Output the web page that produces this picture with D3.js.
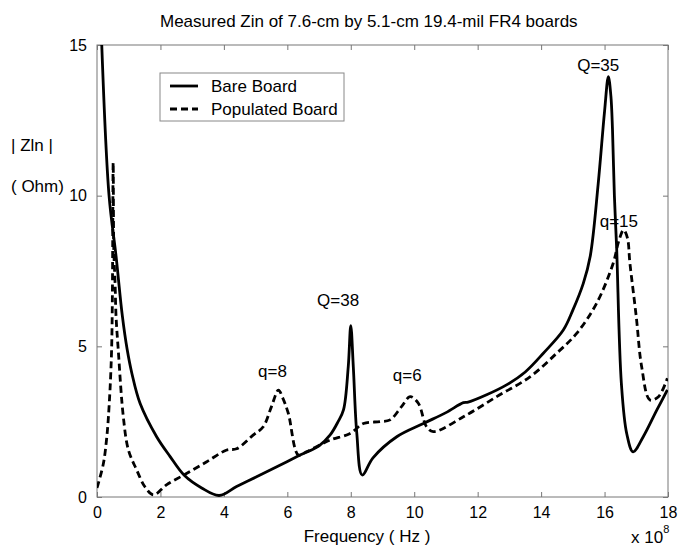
<!DOCTYPE html>
<html>
<head>
<meta charset="utf-8">
<script src="https://cdn.jsdelivr.net/npm/d3@7"></script>
<style>
  body { margin: 0; background: #fff; }
  svg { font-family: "Liberation Sans", Arial, sans-serif; }
</style>
</head>
<body>
<div id="chart"></div>
<script>
// chart size
var width = 679;
var height = 549;
var margin = {top: 45, right: 11, bottom: 52, left: 97};

// frequency (x 10^8 Hz) and |Zin| (Ohm)
var bareBoard = [
  [0.15, 15], [0.38, 10], [0.6, 8.0], [0.8, 6.0], [0.95, 4.9], [1.1, 4.1],
  [1.36, 3.1], [1.88, 2.0], [2.3, 1.35], [2.75, 0.72], [3.3, 0.3], [3.85, 0.05],
  [4.4, 0.35], [5.03, 0.67], [5.7, 1.02], [6.4, 1.39], [7.0, 1.7], [7.35, 2.06],
  [7.6, 2.5], [7.77, 2.89], [7.92, 4.32], [8.0, 5.69], [8.08, 4.32], [8.19, 2.11],
  [8.36, 0.73], [8.7, 1.3], [9.45, 2.0], [10.29, 2.44], [11.0, 2.8], [11.55, 3.13],
  [11.7, 3.15], [12.3, 3.4], [12.91, 3.72], [13.5, 4.15], [14.07, 4.77], [14.7, 5.54],
  [15.0, 6.2], [15.33, 7.09], [15.55, 8.0], [15.8, 10.4], [16.0, 12.8], [16.12, 13.95],
  [16.2, 13.3], [16.25, 12.2], [16.31, 10.0], [16.38, 8.3], [16.53, 3.77], [16.7, 2.1],
  [16.9, 1.5], [17.22, 2.0], [17.65, 2.89], [17.98, 3.55]
];

var populatedBoard = [
  [0.0, 0.3], [0.2, 1.1], [0.3, 1.9], [0.36, 2.66], [0.46, 4.88], [0.51, 11.1],
  [0.53, 8.2], [0.57, 7.1], [0.6, 6.0], [0.67, 4.88], [0.83, 2.66], [0.99, 1.56],
  [1.25, 0.9], [1.51, 0.34], [1.78, 0.07], [2.19, 0.4], [2.82, 0.78], [3.46, 1.17],
  [4.09, 1.56], [4.4, 1.6], [4.93, 2.06], [5.24, 2.33], [5.5, 3.0], [5.72, 3.55],
  [5.85, 3.3], [6.03, 2.78], [6.35, 1.39], [6.6, 1.5], [6.92, 1.67], [7.35, 1.89],
  [7.98, 2.11], [8.4, 2.44], [8.92, 2.5], [9.24, 2.56], [9.6, 3.0], [9.87, 3.33],
  [10.13, 3.11], [10.39, 2.33], [10.6, 2.17], [11.55, 2.66], [12.6, 3.33], [13.65, 3.99],
  [14.49, 4.77], [15.12, 5.43], [15.75, 6.43], [16.27, 7.75], [16.45, 8.5], [16.6, 8.86],
  [16.72, 8.6], [16.8, 7.75], [17.0, 5.98], [17.17, 4.32], [17.43, 3.22], [17.7, 3.33],
  [17.98, 3.94]
];

var xTicks = [0, 2, 4, 6, 8, 10, 12, 14, 16, 18];
var yTicks = [0, 5, 10, 15];

// peak labels: text, frequency, value at the text baseline
var peakLabels = [
  ["Q=35", 15.8, 14.15],
  ["q=15", 16.45, 8.95],
  ["Q=38", 7.6, 6.35],
  ["q=6", 9.78, 3.85],
  ["q=8", 5.53, 3.98]
];

var legendItems = [
  ["Bare Board", null],
  ["Populated Board", "7,4"]
];

var svg = d3.select("#chart")
  .append("svg")
  .attr("width", width)
  .attr("height", height);

var x = d3.scaleLinear()
  .domain([0, 18])
  .range([margin.left, width - margin.right]);

var y = d3.scaleLinear()
  .domain([0, 15])
  .range([height - margin.bottom, margin.top]);

// frame with inward ticks on all four sides (matlab style)
svg.append("rect")
  .attr("x", x(0))
  .attr("y", y(15))
  .attr("width", x(18) - x(0))
  .attr("height", y(0) - y(15))
  .attr("fill", "none")
  .attr("stroke", "#777")
  .attr("stroke-width", 1);

var xAxis = svg.append("g")
  .attr("transform", "translate(0," + y(0) + ")")
  .call(d3.axisBottom(x).tickValues(xTicks).tickSize(-5).tickPadding(10));

var xAxisTop = svg.append("g")
  .attr("transform", "translate(0," + y(15) + ")")
  .call(d3.axisTop(x).tickValues(xTicks).tickSize(-5).tickFormat(""));

var yAxis = svg.append("g")
  .attr("transform", "translate(" + x(0) + ",0)")
  .call(d3.axisLeft(y).tickValues(yTicks).tickSize(-5).tickPadding(10));

var yAxisRight = svg.append("g")
  .attr("transform", "translate(" + x(18) + ",0)")
  .call(d3.axisRight(y).tickValues(yTicks).tickSize(-5).tickFormat(""));

[xAxis, xAxisTop, yAxis, yAxisRight].forEach(function(g) {
  g.select(".domain").remove();
  g.selectAll(".tick line").attr("stroke", "#777");
  g.selectAll("text")
    .attr("fill", "#000")
    .style("font-size", "16px")
    .style("font-family", "Liberation Sans, Arial, sans-serif");
});

// clip the curves to the plot area
svg.append("clipPath")
  .attr("id", "plot-clip")
  .append("rect")
  .attr("x", x(0))
  .attr("y", y(15))
  .attr("width", x(18) - x(0))
  .attr("height", y(0) - y(15));

var line = d3.line()
  .x(function(d) { return x(d[0]); })
  .y(function(d) { return y(d[1]); })
  .curve(d3.curveCatmullRom.alpha(0.5));

svg.append("path")
  .datum(bareBoard)
  .attr("clip-path", "url(#plot-clip)")
  .attr("d", line)
  .attr("fill", "none")
  .attr("stroke", "#000")
  .attr("stroke-width", 2.8)
  .attr("stroke-linejoin", "round");

svg.append("path")
  .datum(populatedBoard)
  .attr("clip-path", "url(#plot-clip)")
  .attr("d", line)
  .attr("fill", "none")
  .attr("stroke", "#000")
  .attr("stroke-width", 2.8)
  .attr("stroke-dasharray", "7,4");

// peak annotations
svg.selectAll(".peak")
  .data(peakLabels)
  .enter()
  .append("text")
  .attr("class", "peak")
  .attr("x", function(d) { return x(d[1]); })
  .attr("y", function(d) { return y(d[2]); })
  .attr("text-anchor", "middle")
  .style("font-size", "17px")
  .text(function(d) { return d[0]; });

// legend
var legend = svg.append("g");

legend.append("rect")
  .attr("x", 160)
  .attr("y", 73)
  .attr("width", 184)
  .attr("height", 48)
  .attr("fill", "#fff")
  .attr("stroke", "#888")
  .attr("stroke-width", 1);

legendItems.forEach(function(item, i) {
  var ly = 86 + i * 23;
  legend.append("line")
    .attr("x1", 170)
    .attr("x2", 198)
    .attr("y1", ly)
    .attr("y2", ly)
    .attr("stroke", "#000")
    .attr("stroke-width", 2.8)
    .attr("stroke-dasharray", item[1]);
  legend.append("text")
    .attr("x", 211)
    .attr("y", ly + 6)
    .style("font-size", "17px")
    .text(item[0]);
});

// titles and axis labels
svg.append("text")
  .attr("x", 160)
  .attr("y", 27)
  .style("font-size", "17px")
  .text("Measured Zin of 7.6-cm by 5.1-cm 19.4-mil FR4 boards");

svg.append("text")
  .attr("x", 367)
  .attr("y", 542)
  .attr("text-anchor", "middle")
  .style("font-size", "17px")
  .text("Frequency ( Hz )");

var expo = svg.append("text")
  .attr("x", 631)
  .attr("y", 543)
  .style("font-size", "17px");
expo.append("tspan").text("x 10");
expo.append("tspan")
  .attr("dy", -10)
  .style("font-size", "11px")
  .text("8");

svg.append("text")
  .attr("x", 11)
  .attr("y", 151)
  .style("font-size", "17px")
  .text("| Zln |");

svg.append("text")
  .attr("x", 11)
  .attr("y", 192)
  .style("font-size", "17px")
  .text("( Ohm)");
</script>
</body>
</html>
